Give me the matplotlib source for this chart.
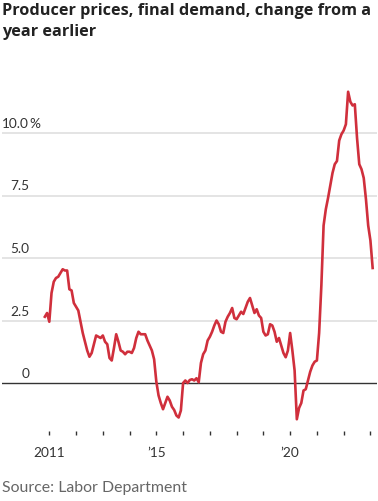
import numpy as np
import matplotlib
matplotlib.use('Agg')
import matplotlib.pyplot as plt

# monthly year-over-year change, Nov 2010 - Feb 2023 (percent)
start_year, start_month = 2010, 11
values = [
    2.65, 2.8,                                                         # 2010 Nov-Dec
    2.45, 3.6, 4.05, 4.2, 4.25, 4.4, 4.55, 4.5, 4.5, 3.75, 3.7, 3.2,   # 2011
    3.05, 2.9, 2.45, 2.0, 1.65, 1.3, 1.05, 1.2, 1.55, 1.9, 1.85, 1.8,  # 2012
    1.9, 1.65, 1.55, 1.0, 0.9, 1.4, 1.95, 1.65, 1.3, 1.25, 1.15, 1.25, # 2013
    1.25, 1.2, 1.4, 1.8, 2.05, 1.95, 1.95, 1.95, 1.7, 1.5, 1.3, 0.95,  # 2014
    0.05, -0.5, -0.8, -1.05, -0.8, -0.55, -0.7, -0.95, -1.08, -1.3, -1.38, -1.1,  # 2015
    0.0, 0.1, 0.0, 0.12, 0.15, 0.1, 0.19, 0.03, 0.8, 1.15, 1.3, 1.7,   # 2016
    1.85, 2.05, 2.3, 2.5, 2.35, 2.05, 2.0, 2.45, 2.65, 2.8, 3.0, 2.6,  # 2017
    2.55, 2.7, 2.85, 2.76, 3.0, 3.25, 3.4, 3.1, 2.8, 2.95, 2.7, 2.6,   # 2018
    2.05, 1.9, 1.95, 2.35, 2.3, 2.05, 1.65, 1.8, 1.5, 1.2, 1.03, 1.3,  # 2019
    2.0, 1.3, 0.5, -1.45, -1.0, -0.8, -0.3, -0.25, 0.1, 0.45, 0.7, 0.85,  # 2020
    0.9, 2.0, 3.9, 6.3, 6.95, 7.4, 7.9, 8.4, 8.75, 8.88, 9.7, 9.95,    # 2021
    10.1, 10.35, 11.65, 11.25, 11.1, 11.15, 9.8, 8.75, 8.55, 8.2, 7.35, 6.3,  # 2022
    5.7, 4.6,                                                          # 2023 Jan-Feb
]
yticks = [0, 2.5, 5.0, 7.5, 10.0]
ytick_labels = ['0', '2.5', '5.0', '7.5', '10.0']
xticks = list(range(2011, 2024))
xtick_labels = {2011: '2011', 2015: '\u201915', 2020: '\u201920'}

title = 'Producer prices, final demand, change from a\nyear earlier'
source = 'Source: Labor Department'

months = np.arange(len(values))
t = start_year + (start_month - 1 + months) / 12.0

W, H = 378, 502
fig = plt.figure(figsize=(W / 100, H / 100), dpi=100)
ax_left, ax_right, ax_top, ax_bottom = 2, 377, 85, 432
ax = fig.add_axes([ax_left / W, 1 - ax_bottom / H, (ax_right - ax_left) / W, (ax_bottom - ax_top) / H])

# x: 2011 at px 49.3, 26.76 px per year
x0 = 2011 + (ax_left - 49.3) / 26.76
x1 = 2011 + (ax_right - 49.3) / 26.76
ax.set_xlim(x0, x1)
ax.set_ylim((384 - ax_bottom) / 25, (384 - ax_top) / 25)

for v in yticks:
    if v == 0:
        ax.axhline(v, color='#333333', lw=1.0, zorder=2)
    else:
        ax.axhline(v, color='#e4e4e4', lw=1.4, zorder=1)

ax.plot(t, values, color='#d02f3c', lw=1.9, zorder=3, solid_joinstyle='round')

lab_font = dict(family=['Lato', 'DejaVu Sans'], size=9.8, color='#333333')
for v, lab in zip(yticks, ytick_labels):
    ax.annotate(lab, xy=(0.0725, v), xycoords=ax.get_yaxis_transform(),
                xytext=(0, 4), textcoords='offset pixels', ha='right', va='bottom',
                **lab_font)
    if lab == '10.0':
        ax.annotate('%', xy=(0.0725, v), xycoords=ax.get_yaxis_transform(),
                    xytext=(0.5, 4), textcoords='offset pixels', ha='left', va='bottom',
                    **lab_font)

ax.set_yticks([])
ax.set_xticks(xticks)
ax.set_xticklabels([xtick_labels.get(x, '') for x in xticks], fontfamily='Lato',
                   fontsize=9.8, color='#333333')
ax.tick_params(axis='x', length=3, width=1, color='#333333', pad=8)
for s in ax.spines.values():
    s.set_visible(False)

fig.text(2 / W, 1 - 3 / H, title, ha='left', va='top', fontsize=11.7,
         fontweight='bold', family=['Open Sans', 'DejaVu Sans'], color='#222222',
         linespacing=1.4)
fig.text(2 / W, 1 - 488 / H, source, ha='left', va='center', fontsize=11.4,
         family=['Lato', 'DejaVu Sans'], color='#666666')

fig.savefig('out.png', dpi=100)
